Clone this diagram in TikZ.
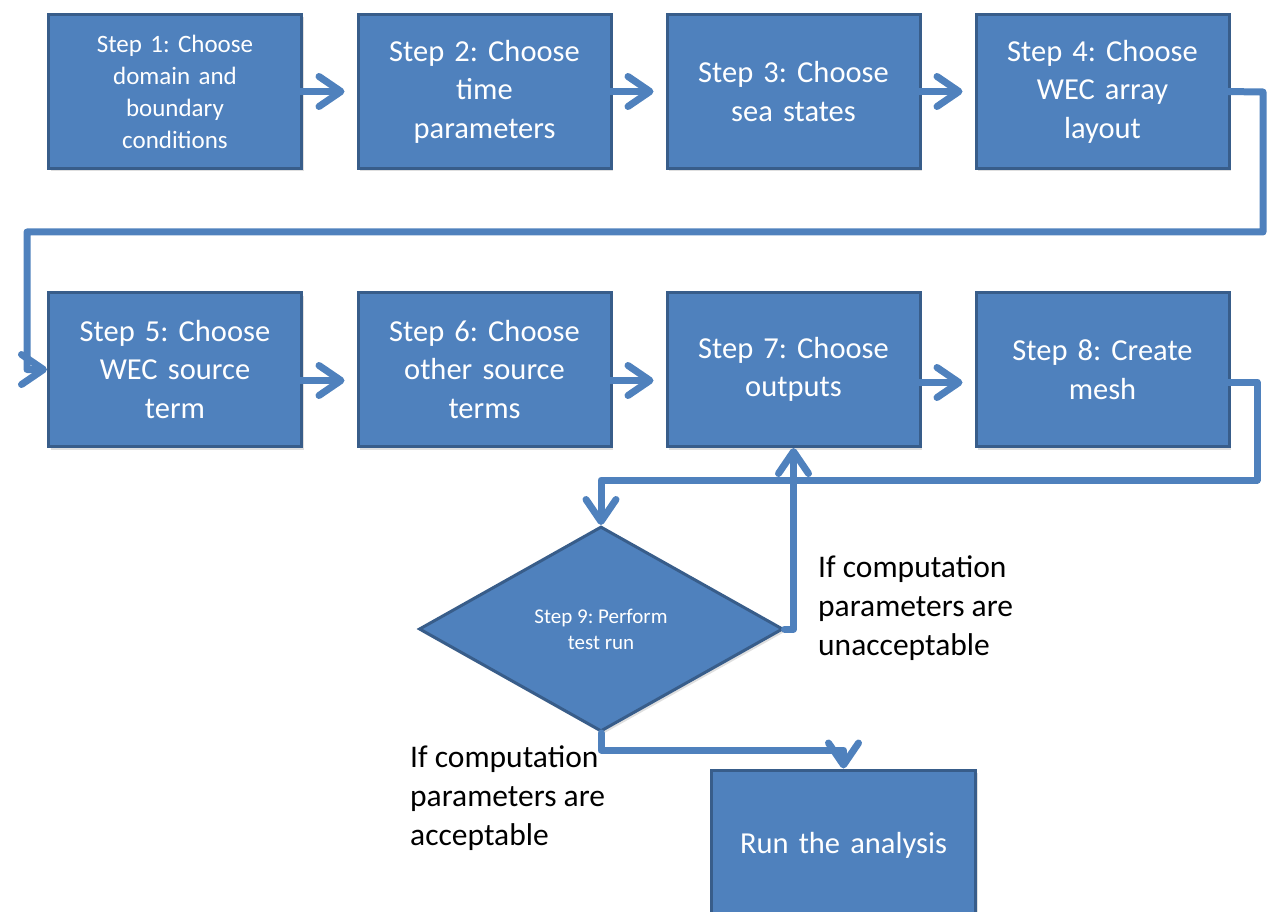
\documentclass[tikz,border=0pt]{standalone}
\usepackage{fontspec}
\setmainfont{Carlito}
\usetikzlibrary{shapes.geometric,arrows.meta,shadows}
\definecolor{boxfill}{HTML}{4F81BD}
\definecolor{boxline}{HTML}{385D8A}
\frenchspacing
\tikzset{
  stepbox/.style={draw=boxline, line width=3pt, fill=boxfill, text=white,
    minimum width=253pt, minimum height=154pt, inner sep=0pt, align=center,
    font=\fontsize{30.5}{38.5}\selectfont, text width=240pt,
    drop shadow={shadow xshift=2pt, shadow yshift=-3pt, opacity=0.25}},
  decision/.style={diamond, draw=boxline, line width=3pt, fill=boxfill, text=white,
    minimum width=364pt, minimum height=205pt, aspect=1.76, inner sep=0pt, align=center,
    font=\fontsize{21}{26}\selectfont,
    drop shadow={shadow xshift=2pt, shadow yshift=-3pt, opacity=0.25}},
  conn/.style={draw=boxfill, line width=7pt, line cap=round, line join=round},
  arr/.style={conn, -{Straight Barb[length=22pt, width=30pt, line cap=round, line join=round]}},
  lbl/.style={align=left, anchor=north west, inner sep=0pt, text=black,
    font=\fontsize{31.5}{39}\selectfont}
}
\begin{document}
\begin{tikzpicture}[x=1pt,y=-1pt]
\useasboundingbox (0,0) rectangle (1269,912);
% row 1
\node[stepbox, font=\fontsize{25}{32}\selectfont] (b1) at (175,91.5) {Step 1: Choose\\domain and\\boundary\\conditions};
\node[stepbox] (b2) at (484.5,91.5) {Step 2: Choose\\time\\parameters};
\node[stepbox] (b3) at (793.5,91.5) {Step 3: Choose\\sea states};
\node[stepbox] (b4) at (1102.5,91.5) {Step 4: Choose\\WEC array\\layout};
% row 2
\node[stepbox] (b5) at (175,369.5) {Step 5: Choose\\WEC source\\term};
\node[stepbox] (b6) at (484.5,369.5) {Step 6: Choose\\other source\\terms};
\node[stepbox] (b7) at (793.5,369.5) {Step 7: Choose\\outputs};
\node[stepbox] (b8) at (1102.5,369.5) {Step 8: Create\\mesh};
% diamond
\node[decision] (d9) at (601,629) {Step 9: Perform\\test run};
% run box
\node[stepbox, minimum width=264pt, minimum height=150pt, text width=250pt] (run) at (843.5,845) {Run the analysis};

% row 1 arrows
\draw[arr] ([xshift=-3pt]b1.east) -- ([xshift=-12pt]b2.west);
\draw[arr] ([xshift=-3pt]b2.east) -- ([xshift=-12pt]b3.west);
\draw[arr] ([xshift=-3pt]b3.east) -- ([xshift=-12pt]b4.west);
% row 2 arrows
\draw[arr] ([xshift=-3pt,yshift=-11pt]b5.east) -- ([xshift=-12pt,yshift=-11pt]b6.west);
\draw[arr] ([xshift=-3pt,yshift=-11pt]b6.east) -- ([xshift=-12pt,yshift=-11pt]b7.west);
\draw[arr] ([xshift=-3pt,yshift=-13pt]b7.east) -- ([xshift=-12pt,yshift=-13pt]b8.west);

% b4 to b5
\coordinate (c1) at (1263,92);
\coordinate (c2) at (1263,232);
\coordinate (c3) at (27,232);
\coordinate (c4) at (27,369.5);
\draw[arr] ([xshift=-6pt]b4.east) -- (c1) -- (c2) -- (c3) -- (c4) -- (b5.west);

% b8 to diamond
\coordinate (e1) at (1257,382);
\coordinate (e2) at (1257,480);
\coordinate (e3) at (601,480);
\draw[arr] ([xshift=-6pt,yshift=-12.5pt]b8.east) -- (e1) -- (e2) -- (e3) -- (d9.north);

% diamond to b7
\coordinate (f1) at (793.5,629);
\draw[arr] (d9.east) -- (f1) -- (b7.south);

% diamond to run
\coordinate (g1) at (601,750);
\coordinate (g2) at (843.5,750);
\draw[arr] (d9.south) -- (g1) -- (g2) -- (run.north);

% labels
\node[lbl] (l1) at (818,556) {If computation\\parameters are\\unacceptable};
\node[lbl] (l2) at (410,746) {If computation\\parameters are\\acceptable};
\end{tikzpicture}
\end{document}
